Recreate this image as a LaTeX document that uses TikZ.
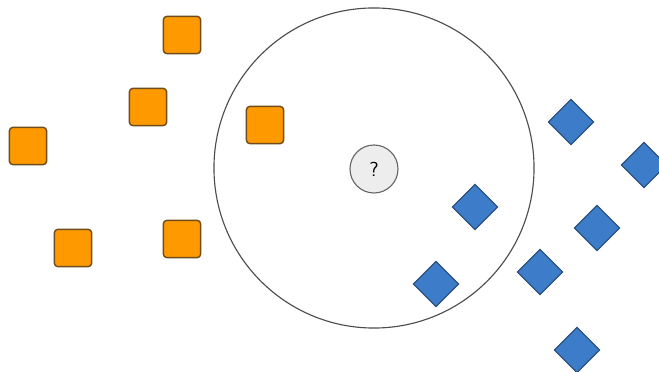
\documentclass[tikz,border=0pt]{standalone}
\usepackage{xcolor}
\usepackage{tikz}
\usetikzlibrary{positioning}

\definecolor{sqorange}{HTML}{FF9900}
\definecolor{sqedge}{HTML}{6E4C1C}
\definecolor{dmblue}{HTML}{3D7CC9}
\definecolor{dmedge}{HTML}{284A75}

\begin{document}
\begin{tikzpicture}[x=0.025cm, y=-0.025cm,
  orangebox/.style={draw=sqedge, fill=sqorange, line width=1pt, rounded corners=2.4pt, minimum size=0.93cm, inner sep=0pt},
  bluebox/.style={draw=dmedge, fill=dmblue, line width=0.8pt, rotate=45, minimum size=0.8cm, inner sep=0pt}]
\clip (0,0) rectangle (659,372);
\useasboundingbox (0,0) rectangle (659,372);
% vecindario
\node[draw=black!70, line width=0.8pt, circle, minimum size=8.0cm, inner sep=0pt] (zona) at (374,168) {};
\node[draw=black!60, fill=black!7, line width=0.8pt, circle, minimum size=1.2cm, inner sep=0pt, font=\sffamily\Large] (nuevo) at (374,169) {?};
% clase naranja
\foreach \x/\y/\n in {182/35/a1, 148/107/a2, 28/146/a3, 73/248/a4, 182/239/a5, 265/125/a6}{
  \node[orangebox] (\n) at (\x,\y) {};
}
% clase azul
\foreach \x/\y/\n in {571/122/b1, 644/165/b2, 475/207/b3, 436/284/b4, 597/228/b5, 540/272/b6, 577/350/b7}{
  \node[bluebox] (\n) at (\x,\y) {};
}
\end{tikzpicture}
\end{document}
